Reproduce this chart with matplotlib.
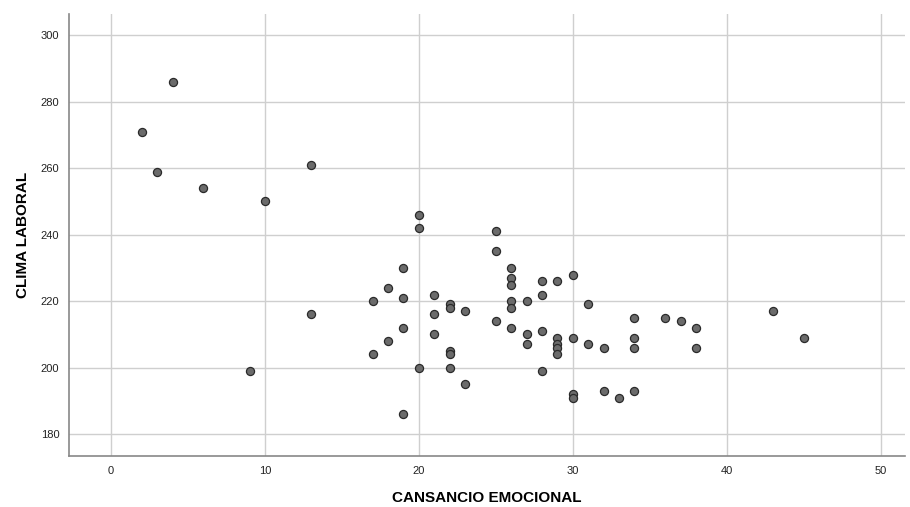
import matplotlib
matplotlib.use("Agg")
import matplotlib.pyplot as plt

cansancio = [4, 2, 3, 6, 10, 13, 13, 9,
             20, 20, 25, 25, 19, 18, 17, 19, 21, 21, 22, 22, 23, 19, 18, 17, 21,
             22, 22, 20, 22, 23, 19, 25,
             26, 26, 26, 26, 26, 26, 27, 27, 27, 28, 28, 28, 28,
             29, 29, 29, 29, 29, 30, 30, 30, 30,
             31, 31, 32, 32, 33, 34, 34, 34, 34,
             36, 37, 38, 38, 43, 45]
clima = [286, 271, 259, 254, 250, 261, 216, 199,
         246, 242, 241, 235, 230, 224, 220, 221, 222, 216, 219, 218, 217, 212, 208, 204, 210,
         205, 204, 200, 200, 195, 186, 214,
         230, 227, 225, 220, 218, 212, 220, 210, 207, 226, 222, 211, 199,
         226, 209, 207, 206, 204, 228, 209, 192, 191,
         219, 207, 206, 193, 191, 215, 209, 206, 193,
         215, 214, 212, 206, 217, 209]

xticks = [0, 10, 20, 30, 40, 50]
yticks = [180, 200, 220, 240, 260, 280, 300]

plt.rcParams['font.family'] = ['Liberation Sans', 'DejaVu Sans']
fig = plt.figure(figsize=(9.1, 5.07), dpi=100)
ax = fig.add_axes([0.0758, 0.1006, 0.919, 0.871])
ax.scatter(cansancio, clima, s=34, c='#6b6b6b', edgecolors='#2a2a2a', linewidths=0.9, zorder=3)
ax.set_xlim(-2.73, 51.6)
ax.set_ylim(173.4, 306.3)
ax.set_xticks(xticks)
ax.set_yticks(yticks)
ax.grid(True, color='#cfcfcf', linewidth=1.0, zorder=0)
ax.set_axisbelow(True)
ax.tick_params(length=0, labelsize=8, colors='#222222', pad=7)
for s in ['top', 'right']:
    ax.spines[s].set_visible(False)
for s in ['left', 'bottom']:
    ax.spines[s].set_color('#888888')
    ax.spines[s].set_linewidth(1.2)
ax.set_xlabel('CANSANCIO EMOCIONAL', fontsize=11, fontweight='bold', labelpad=11)
ax.set_ylabel('CLIMA LABORAL', fontsize=11, fontweight='bold', labelpad=8)
fig.savefig('out.png', dpi=100)
